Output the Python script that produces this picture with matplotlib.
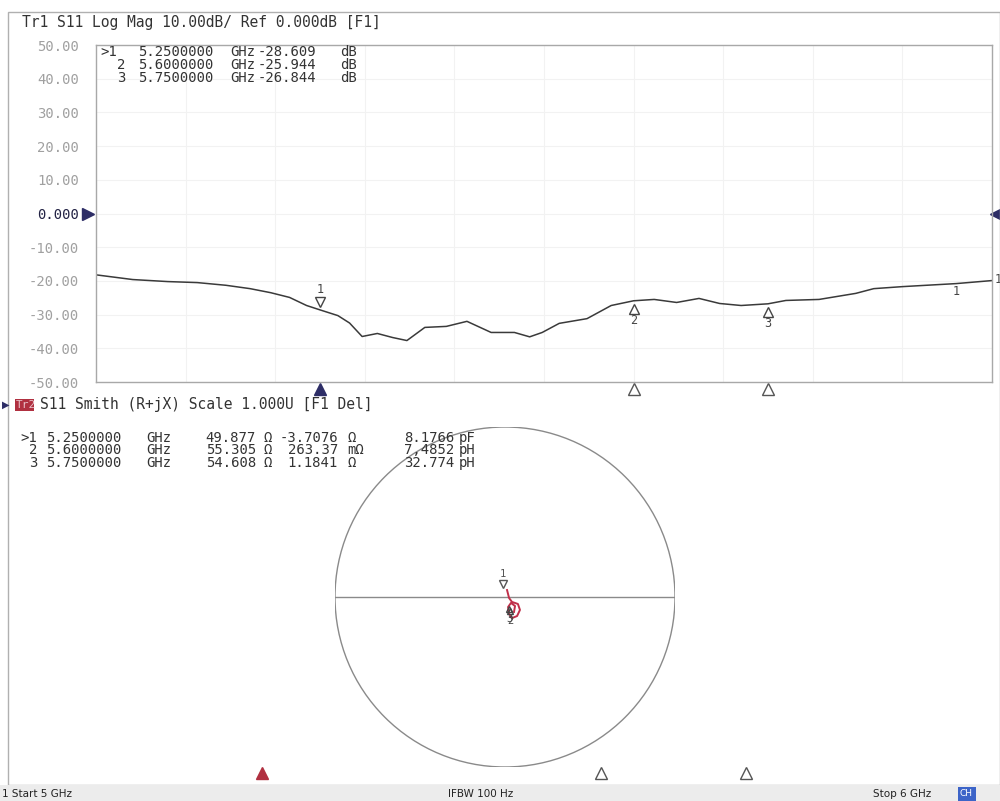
import numpy as np
import matplotlib
matplotlib.use('Agg')
import matplotlib.pyplot as plt
import matplotlib.transforms as mtransforms
from matplotlib.patches import Rectangle, Circle

# S11 log magnitude trace
freq_ghz = [5.000, 5.041, 5.080, 5.113, 5.145, 5.172, 5.195, 5.216, 5.235, 5.250,
            5.270, 5.283, 5.297, 5.314, 5.331, 5.347, 5.367, 5.391, 5.414, 5.441,
            5.467, 5.484, 5.498, 5.517, 5.548, 5.575, 5.600, 5.623, 5.648, 5.673,
            5.696, 5.720, 5.750, 5.770, 5.807, 5.848, 5.868, 5.900, 5.960, 6.000]
s11_db = [-18.2, -19.6, -20.2, -20.5, -21.3, -22.3, -23.5, -24.9, -27.3, -28.6,
          -30.3, -32.5, -36.5, -35.6, -36.8, -37.7, -33.8, -33.5, -32.0, -35.3,
          -35.3, -36.6, -35.3, -32.6, -31.2, -27.3, -25.9, -25.5, -26.4, -25.2,
          -26.7, -27.3, -26.8, -25.8, -25.5, -23.7, -22.3, -21.7, -20.8, -19.9]

# Smith chart trace, reflection coefficient
gamma_re = [0.012, 0.024, 0.041, 0.076, 0.088, 0.071, 0.041, 0.024, 0.018, 0.035, 0.059, 0.053]
gamma_im = [0.041, -0.006, -0.029, -0.041, -0.076, -0.112, -0.124, -0.100, -0.059, -0.035, -0.053, -0.088]

# markers
marker_ids = ['1', '2', '3']
marker_freq = [5.25, 5.60, 5.75]
marker_db = [-28.609, -25.944, -26.844]
marker_r = [49.877, 55.305, 54.608]
marker_x = [-3.7076, 0.26337, 1.1841]
marker_x_txt = ['-3.7076', '263.37', '1.1841']
marker_x_unit = ['\u03a9', 'm\u03a9', '\u03a9']
marker_lc_txt = ['8.1766', '7,4852', '32.774']
marker_lc_unit = ['pF', 'pH', 'pH']

yticks = [50, 40, 30, 20, 10, 0, -10, -20, -30, -40, -50]
ytick_labels = ['50.00', '40.00', '30.00', '20.00', '10.00', '0.000',
                '-10.00', '-20.00', '-30.00', '-40.00', '-50.00']

W, H = 1000, 801
mono = 'DejaVu Sans Mono'
fig = plt.figure(figsize=(W / 100, H / 100), dpi=100)
fig.patch.set_facecolor('white')


def px(x, y):
    return x / W, 1 - y / H


def ftext(x, y, s, **kw):
    kw.setdefault('family', mono)
    kw.setdefault('fontsize', 10)
    kw.setdefault('color', '#333333')
    kw.setdefault('va', 'center')
    fig.text(*px(x, y), s, **kw)


# outer frame
fig.patches.append(Rectangle(px(8, 785), 992 / W, 773 / H, transform=fig.transFigure,
                             fill=False, edgecolor='#b0b0b0', linewidth=1))

# ---------------- upper: log mag ----------------
ax = fig.add_axes([96 / W, 1 - 382 / H, 896 / W, 337 / H])
ax.plot(freq_ghz, s11_db, color='#3a3a3a', linewidth=1.1)
ax.set_xlim(5, 6)
ax.set_ylim(-50, 50)
ax.set_yticks(yticks)
ax.set_yticklabels(ytick_labels, family=mono, fontsize=10)
for lab, v in zip(ax.get_yticklabels(), yticks):
    lab.set_color('#222244' if v == 0 else '#a0a0a0')
ax.tick_params(axis='y', length=0, pad=12)
ax.set_xticks(np.arange(5.1, 6.0, 0.1))
ax.tick_params(axis='x', length=0, labelbottom=False)
ax.grid(True, color='#f2f2f2', linewidth=0.8)
for s in ax.spines.values():
    s.set_color('#a8a8a8')
    s.set_linewidth(1)

blend = mtransforms.blended_transform_factory(ax.transAxes, ax.transData)
ax.plot([-0.009], [0], marker='>', color='#2d2d66', markersize=8, transform=blend, clip_on=False)
ax.plot([1.004], [0], marker='<', color='#2d2d66', markersize=8, transform=blend, clip_on=False)

up7 = mtransforms.offset_copy(ax.transData, fig=fig, x=0, y=8, units='dots')
up19 = mtransforms.offset_copy(ax.transData, fig=fig, x=0, y=20, units='dots')
dn7 = mtransforms.offset_copy(ax.transData, fig=fig, x=0, y=-8, units='dots')
dn19 = mtransforms.offset_copy(ax.transData, fig=fig, x=0, y=-20, units='dots')
for i, (f, d) in enumerate(zip(marker_freq, marker_db)):
    if i == 0:
        ax.plot([f], [d], marker='v', mfc='white', mec='#444444', markersize=7, transform=up7, clip_on=False)
        ax.text(f, d, marker_ids[i], transform=up19, ha='center', va='center',
                family=mono, fontsize=8.5, color='#444444')
    else:
        ax.plot([f], [d], marker='^', mfc='white', mec='#444444', markersize=7, transform=dn7, clip_on=False)
        ax.text(f, d, marker_ids[i], transform=dn19, ha='center', va='center',
                family=mono, fontsize=8.5, color='#444444')
ax.text(5.96, -20.8, '1', transform=dn7, ha='center', va='center', family=mono, fontsize=8.5, color='#444444')
ax.text(1.003, -19.5, '1', transform=blend, ha='left', va='center', family=mono, fontsize=8.5,
        color='#444444', clip_on=False)

# triangles under the upper plot
bx = mtransforms.blended_transform_factory(ax.transData, ax.transAxes)
for i, f in enumerate(marker_freq):
    if i == 0:
        ax.plot([f], [-0.022], marker='^', color='#2d2d66', markersize=8, transform=bx, clip_on=False)
    else:
        ax.plot([f], [-0.022], marker='^', mfc='white', mec='#555555', markersize=8, transform=bx, clip_on=False)

# upper header and marker table
ftext(22, 22, 'Tr1 S11 Log Mag 10.00dB/ Ref 0.000dB [F1]', fontsize=10.5)
rows_up = [52, 65, 78]
for i in range(3):
    y = rows_up[i]
    ftext(100 if i == 0 else 117, y, ('>' if i == 0 else '') + marker_ids[i])
    ftext(138, y, '%.7f' % marker_freq[i])
    ftext(230, y, 'GHz')
    ftext(258, y, '%.3f' % marker_db[i])
    ftext(340, y, 'dB')

# ---------------- lower: Smith chart ----------------
ftext(2, 405, '\u25b6', fontsize=7, color='#2d2d66', family='DejaVu Sans')
fig.patches.append(Rectangle(px(15, 411), 19 / W, 12 / H, transform=fig.transFigure,
                             facecolor='#b03040', edgecolor='none'))
ftext(16, 405, 'Tr2', fontsize=8, color='#e8c0c8')
ftext(40, 405, 'S11 Smith (R+jX) Scale 1.000U [F1 Del]', fontsize=10.5)

rows_lo = [438, 450, 463]
for i in range(3):
    y = rows_lo[i]
    ftext(20 if i == 0 else 29, y, ('>' if i == 0 else '') + marker_ids[i])
    ftext(46, y, '%.7f' % marker_freq[i])
    ftext(146, y, 'GHz')
    ftext(256, y, '%.3f' % marker_r[i], ha='right')
    ftext(263, y, '\u03a9')
    ftext(338, y, marker_x_txt[i], ha='right')
    ftext(347, y, marker_x_unit[i])
    ftext(454, y, marker_lc_txt[i], ha='right')
    ftext(459, y, marker_lc_unit[i])

sx = fig.add_axes([335 / W, 1 - 767 / H, 340 / W, 340 / H])
sx.set_xlim(-1, 1)
sx.set_ylim(-1, 1)
sx.axis('off')
sx.add_patch(Circle((0, 0), 1, fill=False, edgecolor='#8a8a8a', linewidth=1))
sx.plot([-1, 1], [0, 0], color='#8a8a8a', linewidth=1)
sx.plot(gamma_re, gamma_im, color='#c0304a', linewidth=1.4)

z = np.array(marker_r) + 1j * np.array(marker_x)
gam = (z - 50) / (z + 50)
sup8 = mtransforms.offset_copy(sx.transData, fig=fig, x=0, y=9, units='dots')
sup18 = mtransforms.offset_copy(sx.transData, fig=fig, x=0, y=19, units='dots')
sdn8 = mtransforms.offset_copy(sx.transData, fig=fig, x=0, y=-14, units='dots')
sdn18 = mtransforms.offset_copy(sx.transData, fig=fig, x=0, y=-24, units='dots')
for i, g in enumerate(gam):
    if i == 0:
        sx.plot([g.real - 0.01], [g.imag + 0.06], marker='v', mfc='white', mec='#555555', markersize=6, transform=sup8)
        sx.text(g.real - 0.01, g.imag + 0.06, marker_ids[i], transform=sup18, ha='center', va='center',
                family=mono, fontsize=7.5, color='#555555')
    else:
        sx.plot([g.real - 0.02], [g.imag], marker='^', mfc='none', mec='#444444', markersize=5, transform=sdn8)
        sx.text(g.real - 0.02, g.imag, marker_ids[i], transform=sdn18, ha='center', va='center',
                family=mono, fontsize=7.5, color='#444444')

# triangles at the bottom of the Smith area
bax = fig.add_axes([20 / W, 1 - 779 / H, 968 / W, 12 / H])
bax.set_xlim(5, 6)
bax.set_ylim(0, 1)
bax.axis('off')
for i, f in enumerate(marker_freq):
    if i == 0:
        bax.plot([f], [0.5], marker='^', color='#b03040', markersize=8, clip_on=False)
    else:
        bax.plot([f], [0.5], marker='^', mfc='white', mec='#555555', markersize=8, clip_on=False)

# status bar
fig.patches.append(Rectangle((0, 0), 1, 16 / H, transform=fig.transFigure,
                             facecolor='#ececec', edgecolor='none'))
ftext(2, 794, '1 Start 5 GHz', family='DejaVu Sans', fontsize=7.5, color='#222222')
ftext(448, 794, 'IFBW 100 Hz', family='DejaVu Sans', fontsize=7.5, color='#222222')
ftext(873, 794, 'Stop 6 GHz', family='DejaVu Sans', fontsize=7.5, color='#222222')
fig.patches.append(Rectangle(px(958, 801), 18 / W, 14 / H, transform=fig.transFigure,
                             facecolor='#3c64c8', edgecolor='none'))
ftext(960, 794, 'CH', family='DejaVu Sans', fontsize=6.5, color='white')

fig.savefig('out.png', dpi=100)
